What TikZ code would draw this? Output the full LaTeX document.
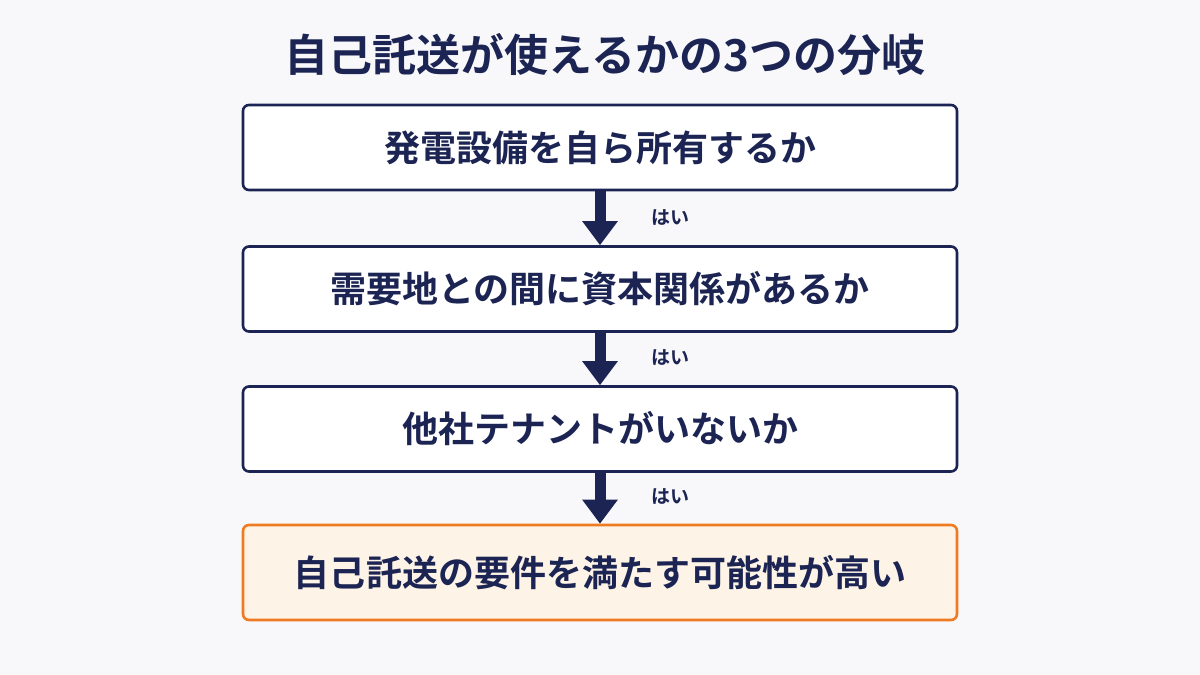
\documentclass[tikz,border=0pt]{standalone}
\usepackage{fontspec}
\setmainfont{Noto Sans CJK JP}[BoldFont={Noto Sans CJK JP Bold}]
\usetikzlibrary{arrows.meta}
\definecolor{navy}{HTML}{1B2452}
\definecolor{bg}{HTML}{F8F8FA}
\definecolor{org}{HTML}{F07A22}
\definecolor{cream}{HTML}{FDF3E6}
\begin{document}
\begin{tikzpicture}[x=1bp,y=-1bp,
 box/.style={draw=navy,line width=2.6bp,rounded corners=6bp,fill=white,minimum width=714bp,minimum height=85bp,font=\bfseries\fontsize{36bp}{40bp}\selectfont,text=navy},
 arr/.style={navy,line width=11bp,-{Triangle[length=24bp,width=34bp]}},
 yes/.style={text=navy,font=\bfseries\fontsize{19bp}{22bp}\selectfont}]
\fill[bg] (0,0) rectangle (1200,675);
\useasboundingbox (0,0) rectangle (1200,675);
\node[text=navy,font=\bfseries\fontsize{44bp}{48bp}\selectfont] (t) at (605,55) {自己託送が使えるかの3つの分岐};
\node[box] (b1) at (600,147.5) {発電設備を自ら所有するか};
\node[box] (b2) at (600,289) {需要地との間に資本関係があるか};
\node[box] (b3) at (600,429) {他社テナントがいないか};
\node[box,draw=org,fill=cream,minimum height=95bp] (b4) at (600,572.5) {自己託送の要件を満たす可能性が高い};
\draw[arr] (b1.south) -- (b2.north);
\draw[arr] (b2.south) -- (b3.north);
\draw[arr] (b3.south) -- (b4.north);
\node[yes] (y1) at (670,218) {はい};
\node[yes] (y2) at (670,358) {はい};
\node[yes] (y3) at (670,497) {はい};
\end{tikzpicture}
\end{document}
